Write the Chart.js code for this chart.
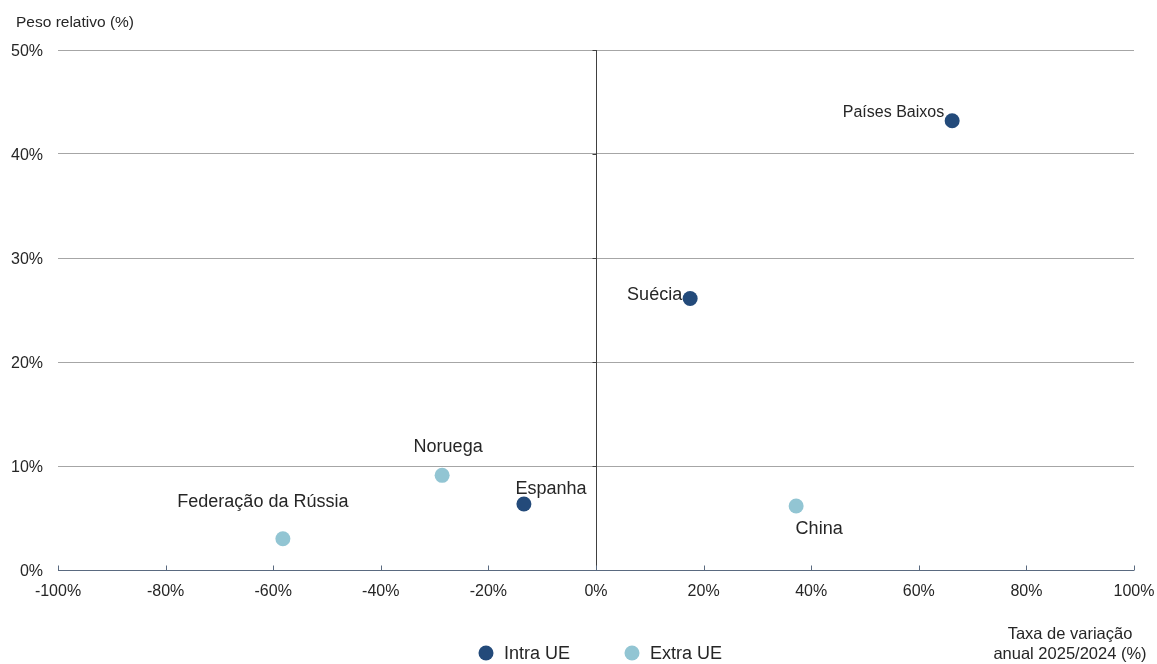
<!DOCTYPE html>
<html>
<head>
<meta charset="utf-8">
<script src="https://cdn.jsdelivr.net/npm/chart.js@4"></script>
<style>
  html, body { margin: 0; padding: 0; background: #ffffff; }
  #wrap { width: 1157px; height: 664px; position: relative; }
</style>
</head>
<body>
<div id="wrap"><canvas id="c" width="1157" height="664"></canvas></div>
<script>
// ---- Data ----
const seriesNames = ['Intra UE', 'Extra UE'];
const intraLabels = ['Países Baixos', 'Suécia', 'Espanha'];
const intraX = [66.2, 17.5, -13.4];
const intraY = [43.2, 26.1, 6.35];
const extraLabels = ['China', 'Noruega', 'Federação da Rússia'];
const extraX = [37.2, -28.6, -58.2];
const extraY = [6.15, 9.1, 3.0];
const xTickValues = [-100, -80, -60, -40, -20, 0, 20, 40, 60, 80, 100];
const yTickValues = [0, 10, 20, 30, 40, 50];
const yAxisTitle = 'Peso relativo (%)';
const xAxisTitle = ['Taxa de variação', 'anual 2025/2024 (%)'];

// ---- Styles ----
const COLOR_INTRA = '#234a7a';
const COLOR_EXTRA = '#92c5d3';
const TEXT = '#262626';
const FONT = '"Liberation Sans", Arial, sans-serif';

// label placement (pixel offsets from the point, styling only)
const labelPlacement = {
  'Países Baixos': { dx: -8, dy: -8, align: 'right', size: 16 },
  'Suécia': { dx: -8, dy: -4, align: 'right', size: 18 },
  'Espanha': { dx: 27, dy: -15, align: 'center', size: 18 },
  'China': { dx: 23, dy: 23, align: 'center', size: 18 },
  'Noruega': { dx: 6, dy: -28, align: 'center', size: 18 },
  'Federação da Rússia': { dx: -20, dy: -37, align: 'center', size: 18 }
};

function toPoints(xs, ys) { return xs.map((x, i) => ({ x: x, y: ys[i] })); }

const decorPlugin = {
  id: 'decor',
  beforeDatasetsDraw(chart) {
    const ctx = chart.ctx;
    const xs = chart.scales.x, ys = chart.scales.y;
    const area = chart.chartArea;
    ctx.save();
    // vertical zero line
    const x0 = Math.round(xs.getPixelForValue(0)) + 0.5;
    ctx.strokeStyle = '#404040';
    ctx.lineWidth = 1;
    ctx.beginPath();
    ctx.moveTo(x0, area.top);
    ctx.lineTo(x0, area.bottom);
    ctx.stroke();
    // small ticks left of the zero line
    yTickValues.forEach(v => {
      if (v === 0) return;
      const py = Math.round(ys.getPixelForValue(v)) + 0.5;
      ctx.beginPath();
      ctx.moveTo(x0 - 4, py);
      ctx.lineTo(x0, py);
      ctx.stroke();
    });
    // bottom axis line with upward ticks
    const yb = Math.round(ys.getPixelForValue(0)) + 0.5;
    ctx.strokeStyle = '#5a6a80';
    ctx.beginPath();
    ctx.moveTo(area.left, yb);
    ctx.lineTo(area.right, yb);
    ctx.stroke();
    xTickValues.forEach(v => {
      const px = Math.round(xs.getPixelForValue(v)) + 0.5;
      ctx.beginPath();
      ctx.moveTo(px, yb);
      ctx.lineTo(px, yb - 5);
      ctx.stroke();
    });
    ctx.restore();
  },
  afterDatasetsDraw(chart) {
    const ctx = chart.ctx;
    ctx.save();
    ctx.fillStyle = TEXT;
    ctx.textBaseline = 'middle';
    chart.data.datasets.forEach((ds, di) => {
      const meta = chart.getDatasetMeta(di);
      meta.data.forEach((el, i) => {
        const name = ds.pointNames[i];
        const p = labelPlacement[name] || { dx: 0, dy: -15, align: 'center', size: 18 };
        ctx.font = p.size + 'px ' + FONT;
        ctx.textAlign = p.align;
        ctx.fillText(name, el.x + p.dx, el.y + p.dy);
      });
    });
    // y axis title
    ctx.font = '15.5px ' + FONT;
    ctx.textAlign = 'left';
    ctx.fillText(yAxisTitle, 16, 23);
    // x axis title (two lines, centered)
    ctx.font = '16.5px ' + FONT;
    ctx.textAlign = 'center';
    ctx.fillText(xAxisTitle[0], 1070, 634);
    ctx.fillText(xAxisTitle[1], 1070, 654);
    // legend
    const legendY = 654;
    const items = [
      { text: seriesNames[0], color: COLOR_INTRA, cx: 486 },
      { text: seriesNames[1], color: COLOR_EXTRA, cx: 632 }
    ];
    ctx.font = '18px ' + FONT;
    ctx.textAlign = 'left';
    items.forEach(it => {
      ctx.beginPath();
      ctx.fillStyle = it.color;
      ctx.arc(it.cx, legendY - 1, 7.5, 0, Math.PI * 2);
      ctx.fill();
      ctx.fillStyle = TEXT;
      ctx.fillText(it.text, it.cx + 18, legendY);
    });
    ctx.restore();
  }
};

new Chart(document.getElementById('c'), {
  type: 'scatter',
  data: {
    datasets: [
      {
        label: seriesNames[0],
        data: toPoints(intraX, intraY),
        pointNames: intraLabels,
        backgroundColor: COLOR_INTRA,
        borderColor: COLOR_INTRA,
        pointRadius: 7.5,
        pointHoverRadius: 7.5,
        borderWidth: 0
      },
      {
        label: seriesNames[1],
        data: toPoints(extraX, extraY),
        pointNames: extraLabels,
        backgroundColor: COLOR_EXTRA,
        borderColor: COLOR_EXTRA,
        pointRadius: 7.5,
        pointHoverRadius: 7.5,
        borderWidth: 0
      }
    ]
  },
  options: {
    responsive: false,
    animation: false,
    devicePixelRatio: 1,
    layout: { padding: { left: 0, top: 50, right: 23, bottom: 0 } },
    plugins: {
      legend: { display: false },
      tooltip: { enabled: false }
    },
    scales: {
      x: {
        type: 'linear',
        min: -100,
        max: 100,
        afterBuildTicks(scale) { scale.ticks = xTickValues.map(v => ({ value: v })); },
        afterFit(scale) { scale.height = 94; scale.paddingLeft = 0; scale.paddingRight = 0; },
        grid: { display: false, drawTicks: false },
        border: { display: false },
        ticks: {
          padding: 12,
          color: TEXT,
          font: { family: FONT, size: 16 },
          maxRotation: 0,
          callback: v => v + '%'
        }
      },
      y: {
        type: 'linear',
        min: 0,
        max: 50,
        afterBuildTicks(scale) { scale.ticks = yTickValues.map(v => ({ value: v })); },
        afterFit(scale) { scale.width = 58; scale.paddingTop = 0; scale.paddingBottom = 0; },
        grid: {
          drawTicks: false,
          color: ctx => (ctx.tick && ctx.tick.value === 0) ? 'rgba(0,0,0,0)' : '#a6a6a6',
          lineWidth: 1
        },
        border: { display: false },
        ticks: {
          padding: 15,
          labelOffset: 2,
          color: TEXT,
          font: { family: FONT, size: 16 },
          callback: v => v + '%'
        }
      }
    }
  },
  plugins: [decorPlugin]
});
</script>
</body>
</html>
